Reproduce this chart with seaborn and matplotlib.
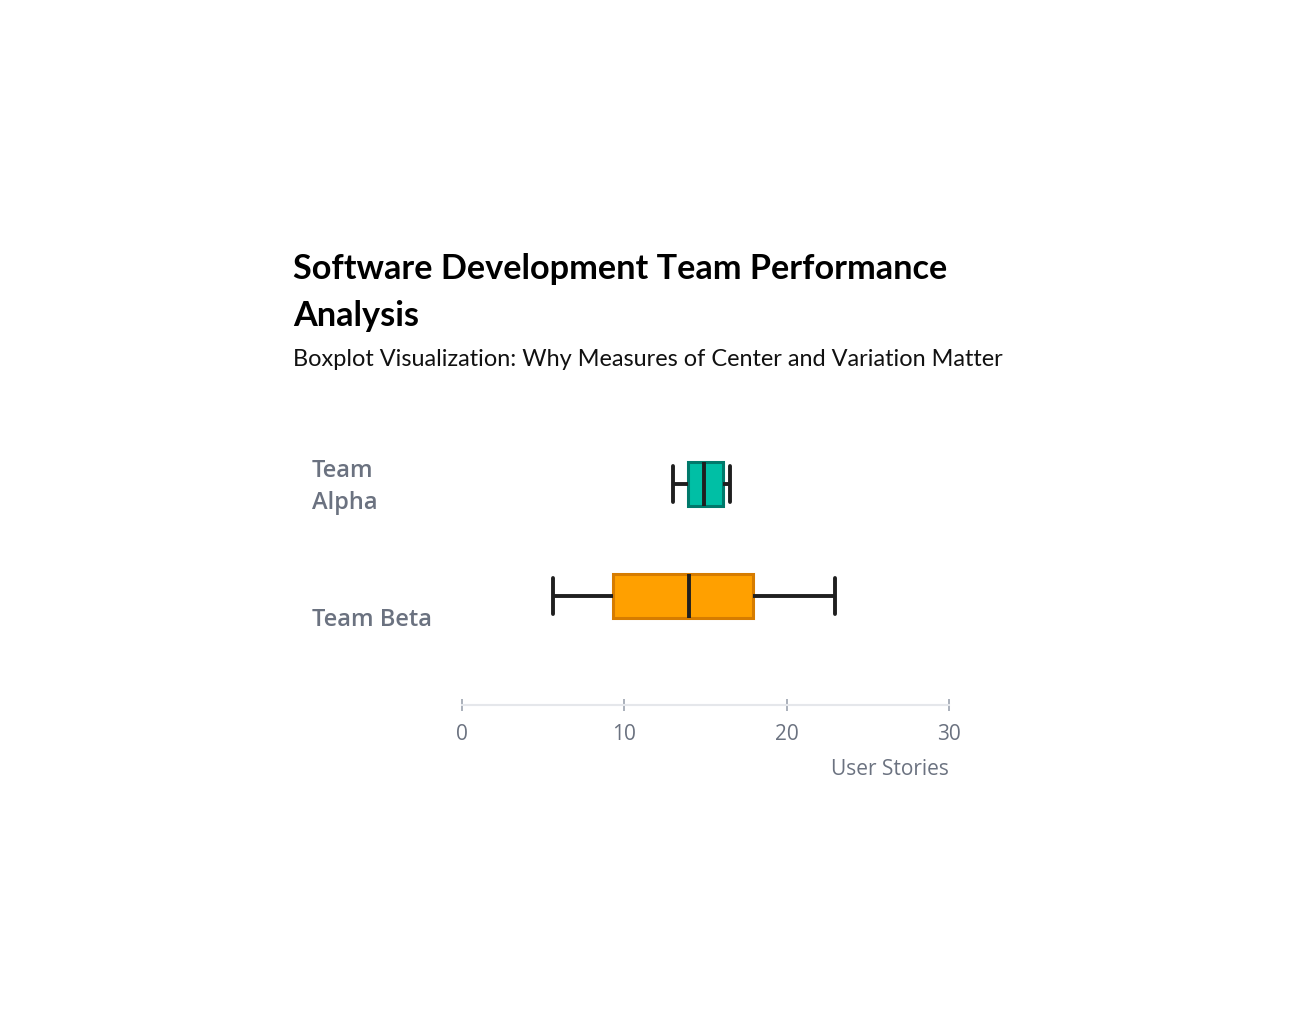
import pandas as pd
import matplotlib.pyplot as plt
import seaborn as sns
from matplotlib import transforms

# values (min, q1, median, q3, max per team)
teams = ["Team Alpha", "Team Beta"]
alpha_stories = [13.0, 13.9, 14.9, 16.05, 16.5]
beta_stories = [5.6, 9.3, 14.0, 17.9, 23.0]
tick_values = [0, 10, 20, 30]
tick_labels = ["0", "10", "20", "30"]

fills = {"Team Alpha": "#00BFA5", "Team Beta": "#FFA000"}
edges = {"Team Alpha": "#00796B", "Team Beta": "#D67C00"}

df = pd.DataFrame({
    "team": [teams[0]] * len(alpha_stories) + [teams[1]] * len(beta_stories),
    "stories": alpha_stories + beta_stories,
})

sns.set_theme(style="white")
plt.rcParams["font.family"] = ["Lato", "DejaVu Sans"]

fig = plt.figure(figsize=(12.89, 10.18), dpi=100)
ax = fig.add_axes([462 / 1289, 313 / 1018, 487 / 1289, 277 / 1018])

sns.boxplot(
    data=df, x="stories", y="team", hue="team", order=teams,
    palette=fills, saturation=1, orient="h", width=0.39, whis=3, linewidth=2.8,
    linecolor="#1f1f1f", legend=False, capwidths=0.33, ax=ax,
)

# box outlines in a darker tone of each fill
for patch, team in zip(ax.patches, teams):
    patch.set_edgecolor(edges[team])
    patch.set_linewidth(2.2)

ax.set_xlim(0, 30)
ax.set_ylim(1.973, -0.5)
ax.set_xticks(tick_values)
ax.set_xticklabels(tick_labels, fontsize=15, color="#6b7280", family=["Open Sans", "DejaVu Sans"])
ax.tick_params(axis="x", bottom=True, length=8, width=1.2, color="#9ca3af",
               direction="inout", pad=10)
ax.set_yticks([])
ax.set_ylabel("")
ax.set_xlabel("User Stories", fontsize=15, color="#6b7280", family=["Open Sans", "DejaVu Sans"],
              loc="right", labelpad=10)

for side in ["top", "right", "left"]:
    ax.spines[side].set_visible(False)
ax.spines["bottom"].set_color("#e5e7eb")
ax.spines["bottom"].set_linewidth(1.5)

# category labels, left aligned like the reference
label_offsets = [-3, -24]
for i, (team, dy) in enumerate(zip(["Team\nAlpha", "Team Beta"], label_offsets)):
    trans = transforms.blended_transform_factory(fig.transFigure, ax.transData)
    trans = trans + transforms.ScaledTranslation(0, dy / 100, fig.dpi_scale_trans)
    ax.text(312 / 1289, i, team, transform=trans, ha="left", va="center",
            fontsize=17, fontweight="semibold", color="#6b7280",
            family=["Open Sans", "DejaVu Sans"], linespacing=1.45)

fig.text(293 / 1289, 1 - 253 / 1018, "Software Development Team Performance\nAnalysis",
         ha="left", va="top", fontsize=24.7, fontweight="bold", color="#000000",
         linespacing=1.58)
fig.text(293 / 1289, 1 - 359 / 1018, "Boxplot Visualization: Why Measures of Center and Variation Matter",
         ha="left", va="center", fontsize=16.9, color="#111111")

fig.savefig("out.png", dpi=100)
